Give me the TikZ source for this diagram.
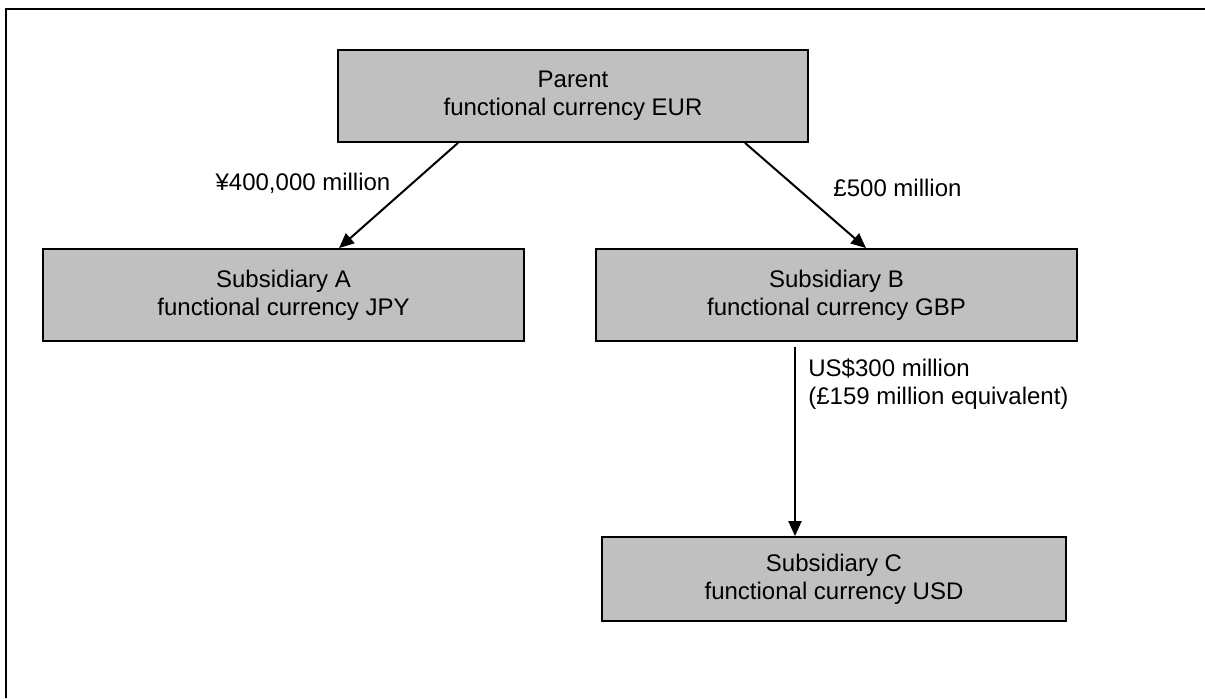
\documentclass[tikz,border=0pt]{standalone}
\usepackage{fontspec}
\setmainfont{Liberation Sans}
\usetikzlibrary{arrows.meta}
\definecolor{boxgray}{HTML}{C0C0C0}
\begin{document}
\begin{tikzpicture}[x=0.5pt,y=-0.5pt,
  entity/.style={draw=black,line width=0.9pt,fill=boxgray,rectangle,align=center,
    font=\fontsize{12}{13.8}\selectfont,inner sep=0pt},
  lbl/.style={font=\fontsize{12}{13.8}\selectfont,inner sep=0pt},
  arr/.style={line width=1pt,-{Triangle[length=7.5pt,width=6.5pt]}},
  frame/.style={line width=0.9pt}]
\useasboundingbox (0,0) rectangle (1205,698);
\fill[white] (0,0) rectangle (1205,698);
\draw[frame] (6,698) -- (6,9) -- (1205,9);
\node[entity,minimum width=235pt,minimum height=46pt] (P) at (573,96) {Parent\\functional currency EUR};
\node[entity,minimum width=240.5pt,minimum height=46pt] (A) at (283.5,295) {Subsidiary A\\functional currency JPY};
\node[entity,minimum width=240.5pt,minimum height=46pt] (B) at (836.5,295) {Subsidiary B\\functional currency GBP};
\node[entity,minimum width=232pt,minimum height=42pt] (C) at (834,579) {Subsidiary C\\functional currency USD};
\draw[arr] ([xshift=-57.5pt]P.south) -- ([xshift=27.75pt]A.north);
\draw[arr] ([xshift=86pt]P.south) -- ([xshift=14.75pt]B.north);
\draw[arr] ([xshift=-20.75pt,yshift=-2.5pt]B.south) -- ([xshift=-19.5pt]C.north);
\node[lbl] (la) at (303,183) {¥400,000 million};
\node[lbl] (lb) at (897.5,188) {£500 million};
\node[lbl,anchor=west,align=left] (lc) at (808,384) {US\$300 million\\(£159 million equivalent)};
\end{tikzpicture}
\end{document}
